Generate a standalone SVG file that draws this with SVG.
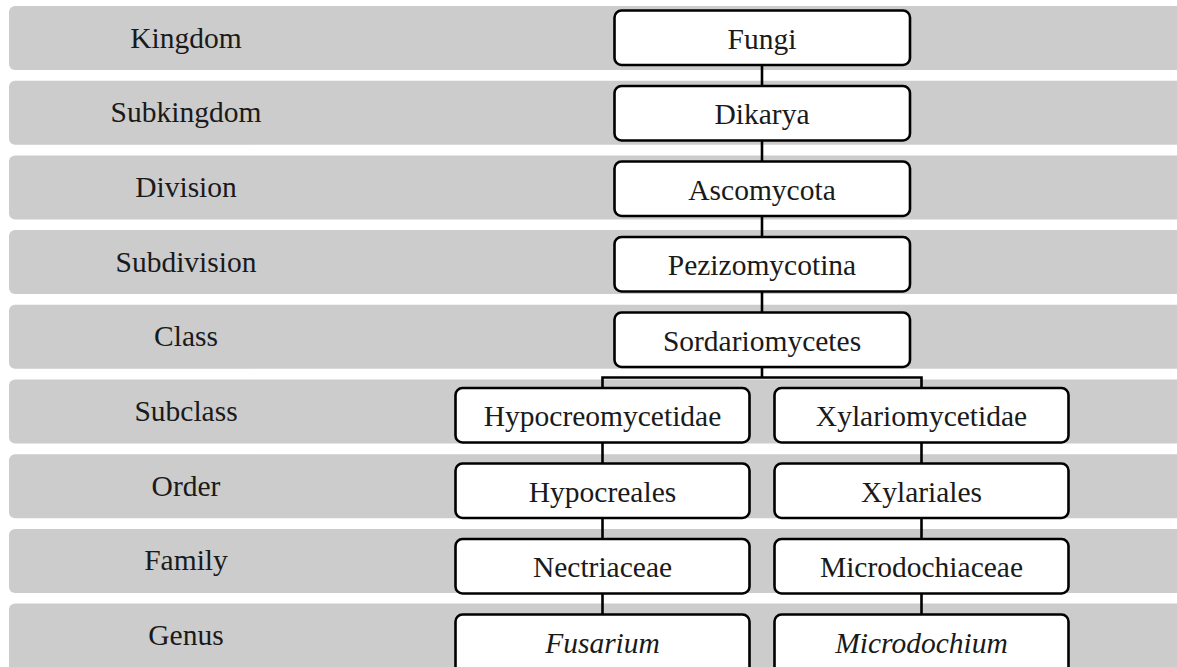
<svg xmlns="http://www.w3.org/2000/svg" width="1177" height="667" viewBox="0 0 1177 667">
  <style>
    .band { fill: #cccccc; }
    .lbl { font-family: "Liberation Serif", "Times New Roman", serif; font-size: 29.5px; fill: #1a1a1a; text-anchor: middle; }
    .box { fill: #ffffff; stroke: #000000; stroke-width: 2.6; }
    .txt { font-family: "Liberation Serif", "Times New Roman", serif; font-size: 29.5px; fill: #1a1a1a; text-anchor: middle; }
    .it { font-style: italic; }
    .conn { fill: none; stroke: #000000; stroke-width: 2.6; }
  </style>
  <rect width="1177" height="667" fill="#ffffff"/>
  <g id="bands">
    <g id="band-kingdom"><rect class="band" x="9" y="6" width="1180" height="64" rx="6"/><text class="lbl" x="186" y="47.5">Kingdom</text></g>
    <g id="band-subkingdom"><rect class="band" x="9" y="80.7" width="1180" height="64" rx="6"/><text class="lbl" x="186" y="122.2">Subkingdom</text></g>
    <g id="band-division"><rect class="band" x="9" y="155.4" width="1180" height="64" rx="6"/><text class="lbl" x="186" y="196.9">Division</text></g>
    <g id="band-subdivision"><rect class="band" x="9" y="230.1" width="1180" height="64" rx="6"/><text class="lbl" x="186" y="271.6">Subdivision</text></g>
    <g id="band-class"><rect class="band" x="9" y="304.8" width="1180" height="64" rx="6"/><text class="lbl" x="186" y="346.3">Class</text></g>
    <g id="band-subclass"><rect class="band" x="9" y="379.5" width="1180" height="64" rx="6"/><text class="lbl" x="186" y="421">Subclass</text></g>
    <g id="band-order"><rect class="band" x="9" y="454.2" width="1180" height="64" rx="6"/><text class="lbl" x="186" y="495.7">Order</text></g>
    <g id="band-family"><rect class="band" x="9" y="528.9" width="1180" height="64" rx="6"/><text class="lbl" x="186" y="570.4">Family</text></g>
    <g id="band-genus"><rect class="band" x="9" y="603.6" width="1180" height="70" rx="6"/><text class="lbl" x="186" y="645.1">Genus</text></g>
  </g>
  <g id="connectors">
    <line class="conn" x1="762" y1="65" x2="762" y2="85.5"/>
    <line class="conn" x1="762" y1="140.5" x2="762" y2="161"/>
    <line class="conn" x1="762" y1="216" x2="762" y2="236.5"/>
    <line class="conn" x1="762" y1="291.5" x2="762" y2="312"/>
    <path class="conn" d="M762 367 V377.5 M602.5 387.5 V377.5 H921.5 V387.5"/>
    <line class="conn" x1="602.5" y1="442.5" x2="602.5" y2="463"/>
    <line class="conn" x1="602.5" y1="518" x2="602.5" y2="538.5"/>
    <line class="conn" x1="602.5" y1="593.5" x2="602.5" y2="614"/>
    <line class="conn" x1="921.5" y1="442.5" x2="921.5" y2="463"/>
    <line class="conn" x1="921.5" y1="518" x2="921.5" y2="538.5"/>
    <line class="conn" x1="921.5" y1="593.5" x2="921.5" y2="614"/>
  </g>
  <g id="node-fungi"><rect class="box" x="614.5" y="10.5" width="295.5" height="54.5" rx="7"/><text class="txt" x="762" y="48.5">Fungi</text></g>
  <g id="node-dikarya"><rect class="box" x="614.5" y="86" width="295.5" height="54.5" rx="7"/><text class="txt" x="762" y="124">Dikarya</text></g>
  <g id="node-ascomycota"><rect class="box" x="614.5" y="161.5" width="295.5" height="54.5" rx="7"/><text class="txt" x="762" y="199.5">Ascomycota</text></g>
  <g id="node-pezizomycotina"><rect class="box" x="614.5" y="237" width="295.5" height="54.5" rx="7"/><text class="txt" x="762" y="275">Pezizomycotina</text></g>
  <g id="node-sordariomycetes"><rect class="box" x="614.5" y="312.5" width="295.5" height="54.5" rx="7"/><text class="txt" x="762" y="350.5">Sordariomycetes</text></g>
  <g id="node-hypocreomycetidae"><rect class="box" x="455.5" y="388" width="294" height="54.5" rx="7"/><text class="txt" x="602.5" y="426">Hypocreomycetidae</text></g>
  <g id="node-xylariomycetidae"><rect class="box" x="774.5" y="388" width="294" height="54.5" rx="7"/><text class="txt" x="921.5" y="426">Xylariomycetidae</text></g>
  <g id="node-hypocreales"><rect class="box" x="455.5" y="463.5" width="294" height="54.5" rx="7"/><text class="txt" x="602.5" y="501.5">Hypocreales</text></g>
  <g id="node-xylariales"><rect class="box" x="774.5" y="463.5" width="294" height="54.5" rx="7"/><text class="txt" x="921.5" y="501.5">Xylariales</text></g>
  <g id="node-nectriaceae"><rect class="box" x="455.5" y="539" width="294" height="54.5" rx="7"/><text class="txt" x="602.5" y="577">Nectriaceae</text></g>
  <g id="node-microdochiaceae"><rect class="box" x="774.5" y="539" width="294" height="54.5" rx="7"/><text class="txt" x="921.5" y="577">Microdochiaceae</text></g>
  <g id="node-fusarium"><rect class="box" x="455.5" y="614.5" width="294" height="60" rx="7"/><text class="txt it" x="602.5" y="652.5">Fusarium</text></g>
  <g id="node-microdochium"><rect class="box" x="774.5" y="614.5" width="294" height="60" rx="7"/><text class="txt it" x="921.5" y="652.5">Microdochium</text></g>
</svg>
